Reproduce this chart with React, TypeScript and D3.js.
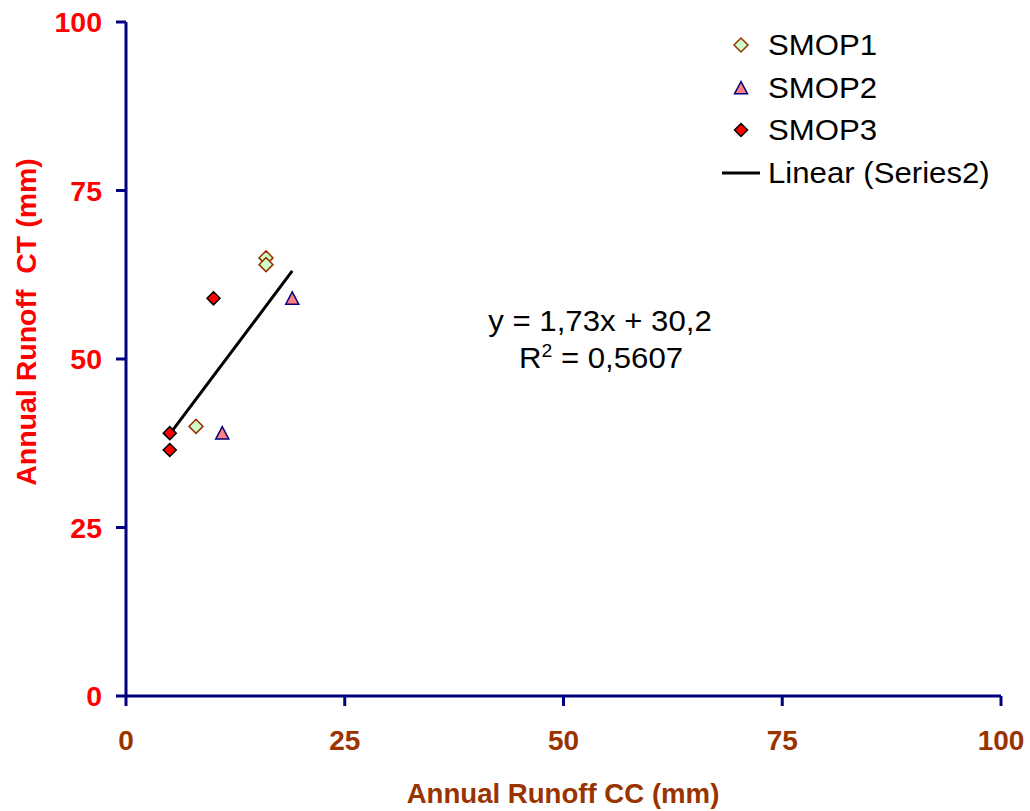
import React from "react";
import * as d3 from "d3";

const ticks = [0, 25, 50, 75, 100];
const smop1X = [16, 16, 8];
const smop1Y = [65, 64, 40];
const smop2X = [19, 11];
const smop2Y = [59, 39];
const smop3X = [10, 5, 5];
const smop3Y = [59, 39, 36.5];
const trendSlope = 1.73;
const trendIntercept = 30.2;
const trendXRange = [5, 19];
const legendLabels = ["SMOP1", "SMOP2", "SMOP3", "Linear (Series2)"];

const FONT = "'Liberation Sans', Arial, sans-serif";
const AXIS = "#000080";
const RED = "#FF0000";
const BROWN = "#993300";
const SX = 1.075;

function Diamond({ cx, cy, r, fill, stroke }: any) {
  const p = `M${cx},${cy - r}L${cx + r},${cy}L${cx},${cy + r}L${cx - r},${cy}Z`;
  return <path d={p} fill={fill} stroke={stroke} strokeWidth={1.5} />;
}
function Triangle({ cx, cy, r, fill, stroke }: any) {
  const p = `M${cx},${cy - r}L${cx + r},${cy + r * 0.9}L${cx - r},${cy + r * 0.9}Z`;
  return <path d={p} fill={fill} stroke={stroke} strokeWidth={1.5} />;
}

export default function App() {
  const x = d3.scaleLinear().domain([0, 100]).range([126, 1001]);
  const y = d3.scaleLinear().domain([0, 100]).range([696, 22]);
  const line = d3
    .line<number>()
    .x((d) => x(d))
    .y((d) => y(trendSlope * d + trendIntercept));

  const legendY = [45, 88, 130, 173];

  return (
    <svg
      width={1030}
      height={811}
      style={{ position: "absolute", left: 0, top: 0, background: "#fff" }}
      fontFamily={FONT}
    >
      {/* axes */}
      <line x1={x(0)} x2={x(100)} y1={y(0)} y2={y(0)} stroke={AXIS} strokeWidth={3} />
      <line x1={x(0)} x2={x(0)} y1={y(0)} y2={y(100)} stroke={AXIS} strokeWidth={3} />
      {ticks.map((t) => (
        <g key={"y" + t}>
          <line x1={x(0) - 10} x2={x(0)} y1={y(t)} y2={y(t)} stroke={AXIS} strokeWidth={3} />
          <text
            x={102}
            y={y(t)}
            dy="0.36em"
            textAnchor="end"
            fontWeight="bold"
            fontSize={28.5}
            fill={RED}
          >
            {t}
          </text>
        </g>
      ))}
      {ticks.map((t) => (
        <g key={"x" + t}>
          <line x1={x(t)} x2={x(t)} y1={y(0)} y2={y(0) + 10} stroke={AXIS} strokeWidth={3} />
          <text
            x={x(t)}
            y={750}
            textAnchor="middle"
            fontWeight="bold"
            fontSize={28}
            fill={BROWN}
          >
            {t}
          </text>
        </g>
      ))}

      {/* axis titles */}
      <text x={563} y={803} textAnchor="middle" fontWeight="bold" fontSize={27.6} fill={BROWN}>
        Annual Runoff CC (mm)
      </text>
      <text
        transform="translate(36,322) rotate(-90)"
        textAnchor="middle"
        fontWeight="bold"
        fontSize={28.5}
        fill={RED}
        style={{ whiteSpace: "pre" }}
      >
        {"Annual Runoff  CT (mm)"}
      </text>

      {/* trendline */}
      <path d={line(trendXRange) || ""} stroke="#000" strokeWidth={3} fill="none" />

      {/* points */}
      {smop1X.map((v, i) => (
        <Diamond key={"a" + i} cx={x(v)} cy={y(smop1Y[i])} r={7} fill="#CCFFCC" stroke={BROWN} />
      ))}
      {smop2X.map((v, i) => (
        <Triangle key={"b" + i} cx={x(v)} cy={y(smop2Y[i])} r={6.5} fill="#FF8080" stroke={AXIS} />
      ))}
      {smop3X.map((v, i) => (
        <Diamond key={"c" + i} cx={x(v)} cy={y(smop3Y[i])} r={6.5} fill="#FF0000" stroke="#000" />
      ))}

      {/* equation */}
      <text
        transform={`translate(600,331) scale(${SX},1)`}
        textAnchor="middle"
        fontSize={29}
        fill="#000"
      >
        y = 1,73x + 30,2
      </text>
      <text
        transform={`translate(601,368) scale(${SX},1)`}
        textAnchor="middle"
        fontSize={29}
        fill="#000"
      >
        R<tspan dy={-11} fontSize={18}>2</tspan>
        <tspan dy={11}> = 0,5607</tspan>
      </text>

      {/* legend */}
      <Diamond cx={741} cy={legendY[0]} r={7} fill="#CCFFCC" stroke={BROWN} />
      <Triangle cx={741} cy={legendY[1]} r={6.5} fill="#FF8080" stroke={AXIS} />
      <Diamond cx={741} cy={legendY[2]} r={6.5} fill="#FF0000" stroke="#000" />
      <line x1={722} x2={760} y1={legendY[3]} y2={legendY[3]} stroke="#000" strokeWidth={3} />
      {legendLabels.map((l, i) => (
        <text
          key={l}
          transform={`translate(768,${legendY[i] + 10}) scale(${SX},1)`}
          fontSize={29}
          fill="#000"
        >
          {l}
        </text>
      ))}
    </svg>
  );
}
